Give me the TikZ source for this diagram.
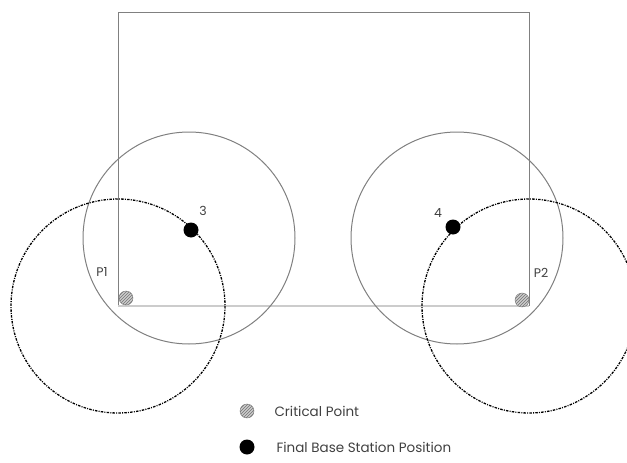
\documentclass[tikz,border=0pt]{standalone}
\usepackage{fontspec}
\setmainfont{Poppins}
\usetikzlibrary{patterns}

\begin{document}
\begin{tikzpicture}[x=1pt,y=-1pt,font=\fontsize{12.5}{14}\selectfont]
   \definecolor{edgegray}{rgb}{0.45,0.45,0.45}
   \definecolor{linegray}{rgb}{0.50,0.50,0.50}
   \definecolor{floorgray}{rgb}{0.80,0.80,0.80}
   \definecolor{textgray}{rgb}{0.25,0.25,0.25}
   \tikzset{
      critical/.style={circle, draw=edgegray, inner sep=0pt, minimum size=14pt,
         preaction={fill=floorgray}, pattern=north east lines, pattern color=edgegray},
      station/.style={circle, fill=black, inner sep=0pt, minimum size=15pt},
      coverage/.style={draw=linegray, line width=1pt},
      reach/.style={draw=black, line width=1.3pt, dash pattern=on 2.5pt off 1.2pt on 1pt off 1.2pt},
      tag/.style={text=textgray}
   }
   \clip (0,0) rectangle (627,463);
   % room outline
   \coordinate (tl) at (118,12);
   \coordinate (tr) at (529,12);
   \coordinate (bl) at (118,306);
   \coordinate (br) at (529,306);
   \draw[linegray, line width=1pt] (bl) -- (tl) -- (tr) -- (br);
   \draw[floorgray, line width=2.5pt] (bl) -- (br);
   % coverage of the two stations
   \draw[coverage] (189,238) circle[radius=106];
   \draw[coverage] (457,238) circle[radius=106];
   % reach around the corners
   \draw[reach] (bl) circle[radius=107];
   \draw[reach] (br) circle[radius=107];
   % critical points and stations
   \node[critical] (p1) at (126,298) {};
   \node[critical] (p2) at (522,300) {};
   \node[station] (s3) at (191,230) {};
   \node[station] (s4) at (453,227) {};
   \node[tag] at (102,272) {P1};
   \node[tag] at (541,273) {P2};
   \node[tag] at (203,211) {3};
   \node[tag] at (438,213) {4};
   % legend
   \node[critical] (lc) at (247,411) {};
   \node[station] (ls) at (247,447) {};
   \node[tag, anchor=west, font=\fontsize{13.5}{16}\selectfont] at (271,411) {Critical Point};
   \node[tag, anchor=west, font=\fontsize{13.5}{16}\selectfont] at (273,447) {Final Base Station Position};
\end{tikzpicture}
\end{document}
